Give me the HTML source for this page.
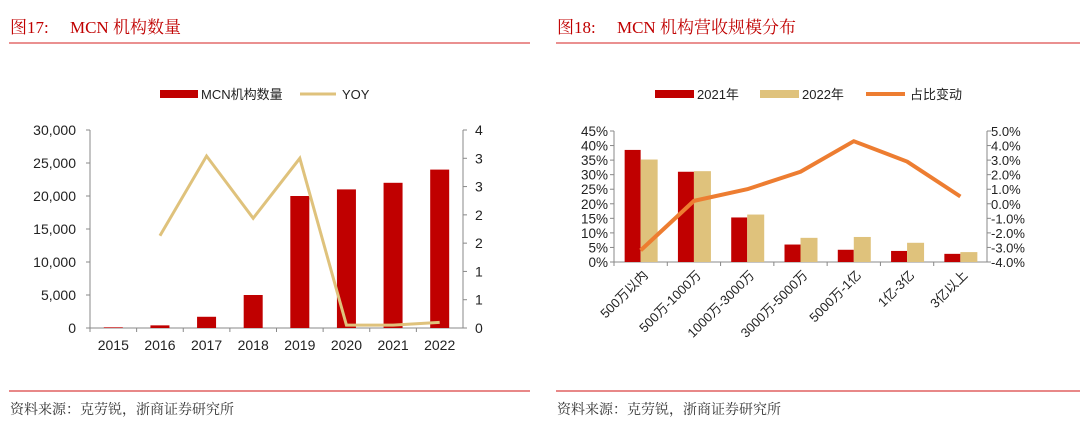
<!DOCTYPE html>
<html><head><meta charset="utf-8"><style>
body{margin:0;background:#fff;width:1086px;height:434px;overflow:hidden;font-family:"Liberation Sans","Noto Sans CJK SC",sans-serif}
svg text{font-family:"Liberation Sans","Noto Sans CJK SC",sans-serif}
.t{font-family:"Liberation Serif","Noto Serif CJK SC",serif !important;fill:#c00000;font-size:17px;white-space:pre}
.s{font-family:"Liberation Serif","Noto Serif CJK SC",serif !important;fill:#333;font-size:14px}
</style></head><body>
<svg id="svg" width="1086" height="434" xmlns="http://www.w3.org/2000/svg">
<text class="t" x="10" y="33" xml:space="preserve">图17:     MCN 机构数量</text>
<line x1="9" y1="43" x2="530" y2="43" stroke="#d42020" stroke-width="1"/>
<text class="t" x="557" y="33" xml:space="preserve">图18:     MCN 机构营收规模分布</text>
<line x1="556" y1="43" x2="1080" y2="43" stroke="#d42020" stroke-width="1"/>
<line x1="9" y1="391" x2="530" y2="391" stroke="#e06060" stroke-width="1.5"/>
<line x1="556" y1="391" x2="1080" y2="391" stroke="#e06060" stroke-width="1.5"/>
<text class="s" x="10" y="414">资料来源：克劳锐，浙商证券研究所</text>
<text class="s" x="557" y="414">资料来源：克劳锐，浙商证券研究所</text>
<g id="c1"></g><g id="c2"></g>
</svg>
<script>
const years=["2015","2016","2017","2018","2019","2020","2021","2022"];
const mcnCount=[100,400,1700,5000,20000,21000,22000,24000];
const yoy=[null,1.63,3.04,1.94,3.0,0.05,0.05,0.1];
const leftTicks=["0","5,000","10,000","15,000","20,000","25,000","30,000"];
const rightTicks=["0","1","1","2","2","3","3","4"];

const bands=["500万以内","500万-1000万","1000万-3000万","3000万-5000万","5000万-1亿","1亿-3亿","3亿以上"];
const share2021=[38.5,31,15.3,6,4.2,3.8,2.8];
const share2022=[35.2,31.2,16.3,8.3,8.6,6.6,3.4];
const change=[-3.2,0.2,1.0,2.2,4.3,2.9,0.5];
const pctTicks=["0%","5%","10%","15%","20%","25%","30%","35%","40%","45%"];
const chgTicks=["-4.0%","-3.0%","-2.0%","-1.0%","0.0%","1.0%","2.0%","3.0%","4.0%","5.0%"];

const NS="http://www.w3.org/2000/svg";
function mk(p,tag,a,txt){const e=document.createElementNS(NS,tag);for(const k in a)e.setAttribute(k,a[k]);if(txt!=null)e.textContent=txt;p.appendChild(e);return e;}

(function(){
const g=document.getElementById('c1');
const L=90,R=463,T=130,B=328;
const y=v=>B-(v/30000)*(B-T);
const y2=v=>B-(v/3.5)*(B-T);
const bw=(R-L)/years.length;
const xc=i=>L+bw*(i+0.5);
let e;
e=mk(g,'line',{x1:L,y1:T,x2:L,y2:B,stroke:'#888'});


e=mk(g,'line',{x1:R,y1:T,x2:R,y2:B,stroke:'#888'});


e=mk(g,'line',{x1:L,y1:B,x2:R,y2:B,stroke:'#888'});


leftTicks.forEach((t,i)=>{const v=i*5000;mk(g,'line',{x1:L-4,y1:y(v),x2:L,y2:y(v),stroke:'#888'});
e=mk(g,'text',{x:L-14,y:y(v)+5,'text-anchor':'end','font-size':'14',fill:'#222'},t);

});
rightTicks.forEach((t,i)=>{const v=i*0.5;mk(g,'line',{x1:R,y1:y2(v),x2:R+4,y2:y2(v),stroke:'#888'});
e=mk(g,'text',{x:R+12,y:y2(v)+5,'font-size':'14',fill:'#222'},t);

});
years.forEach((yr,i)=>{mk(g,'line',{x1:L+bw*i,y1:B,x2:L+bw*i,y2:B+4,stroke:'#888'});
e=mk(g,'text',{x:xc(i),y:B+22,'text-anchor':'middle','font-size':'14',fill:'#222'},yr);


e=mk(g,'rect',{x:xc(i)-9.5,y:y(mcnCount[i]),width:19,height:B-y(mcnCount[i]),fill:'#c00000'});

});
let pts=[];yoy.forEach((v,i)=>{if(v!=null)pts.push(xc(i)+','+y2(v));});
e=mk(g,'polyline',{points:pts.join(' '),fill:'none',stroke:'#dfc27c','stroke-width':3});


e=mk(g,'rect',{x:160,y:90,width:38,height:8,fill:'#c00000'});


e=mk(g,'text',{x:201,y:99,'font-size':'13',fill:'#222'},'MCN机构数量');


e=mk(g,'line',{x1:300,y1:94,x2:336,y2:94,stroke:'#dfc27c','stroke-width':3});


e=mk(g,'text',{x:342,y:99,'font-size':'13',fill:'#222'},'YOY');


})();

(function(){
const g=document.getElementById('c2');
const L=614,R=987,T=131,B=262;
const y=v=>B-(v/45)*(B-T);
const y2=v=>B-((v+4)/9)*(B-T);
const bw=(R-L)/bands.length;
const xc=i=>L+bw*(i+0.5);
let e;
e=mk(g,'line',{x1:L,y1:T,x2:L,y2:B,stroke:'#888'});


e=mk(g,'line',{x1:R,y1:T,x2:R,y2:B,stroke:'#888'});


e=mk(g,'line',{x1:L,y1:B,x2:R,y2:B,stroke:'#888'});


pctTicks.forEach((t,i)=>{const v=i*5;mk(g,'line',{x1:L-4,y1:y(v),x2:L,y2:y(v),stroke:'#888'});
e=mk(g,'text',{x:L-6,y:y(v)+5,'text-anchor':'end','font-size':'13.5',fill:'#222'},t);

});
chgTicks.forEach((t,i)=>{const v=i-4;mk(g,'line',{x1:R,y1:y2(v),x2:R+4,y2:y2(v),stroke:'#888'});
e=mk(g,'text',{x:R+4,y:y2(v)+5,'font-size':'13','font-family':'Liberation Serif, serif',fill:'#222'},t);

});
bands.forEach((b,i)=>{mk(g,'line',{x1:L+bw*i,y1:B,x2:L+bw*i,y2:B+4,stroke:'#888'});
const tx=xc(i)+8,ty=B+14;
e=mk(g,'text',{x:tx,y:ty,'text-anchor':'end','font-size':'13',fill:'#222',transform:'rotate(-45 '+tx+' '+ty+')'},b);


e=mk(g,'rect',{x:xc(i)-16,y:y(share2021[i]),width:16,height:B-y(share2021[i]),fill:'#c00000'});


e=mk(g,'rect',{x:xc(i),y:y(share2022[i]),width:17,height:B-y(share2022[i]),fill:'#dfc27c'});

});
e=mk(g,'polyline',{points:change.map((v,i)=>xc(i)+','+y2(v)).join(' '),fill:'none',stroke:'#ed7d31','stroke-width':4,'stroke-linejoin':'round'});


e=mk(g,'rect',{x:655,y:90,width:39,height:8,fill:'#c00000'});


e=mk(g,'text',{x:697,y:99,'font-size':'13',fill:'#222'},'2021年');


e=mk(g,'rect',{x:760,y:90,width:39,height:8,fill:'#dfc27c'});


e=mk(g,'text',{x:802,y:99,'font-size':'13',fill:'#222'},'2022年');


e=mk(g,'line',{x1:866,y1:94,x2:905,y2:94,stroke:'#ed7d31','stroke-width':4});


e=mk(g,'text',{x:910,y:99,'font-size':'13',fill:'#222'},'占比变动');


})();
</script>
</body></html>
